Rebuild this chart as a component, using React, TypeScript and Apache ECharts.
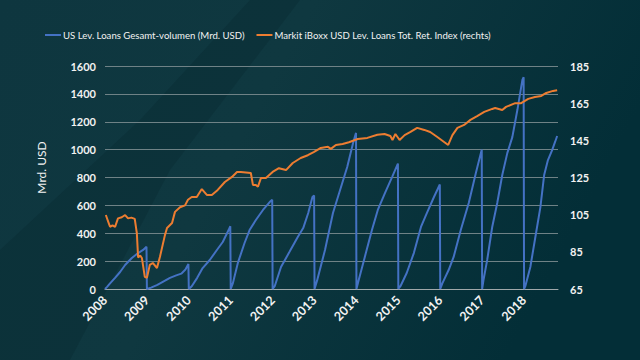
import React, { useEffect, useRef } from "react";
import * as echarts from "echarts";

// US leveraged loan volume, cumulative per year (Mrd. USD): [year, value]
const volumeData: [number, number][] = [
  [2008.0, 0], [2008.05, 15], [2008.12, 40], [2008.24, 80], [2008.36, 122], [2008.48, 172], [2008.64, 222], [2008.79, 258], [2008.91, 280], [2008.99, 303],
  [2009.0, 0], [2009.1, 10], [2009.25, 30], [2009.4, 55], [2009.55, 80], [2009.7, 98], [2009.82, 110], [2009.92, 140], [2009.99, 180],
  [2010.0, 0], [2010.07, 20], [2010.2, 80], [2010.33, 150], [2010.5, 208], [2010.67, 280], [2010.81, 337], [2010.95, 423], [2010.99, 450],
  [2011.0, 0], [2011.05, 40], [2011.17, 187], [2011.33, 330], [2011.45, 423], [2011.6, 495], [2011.77, 567], [2011.93, 624], [2011.99, 640],
  [2012.0, 0], [2012.05, 20], [2012.2, 158], [2012.4, 265], [2012.6, 373], [2012.73, 437], [2012.85, 545], [2012.95, 660], [2012.99, 670],
  [2013.0, 0], [2013.06, 60], [2013.25, 280], [2013.44, 545], [2013.61, 710], [2013.78, 875], [2013.92, 1047], [2013.99, 1120],
  [2014.0, 0], [2014.05, 60], [2014.2, 230], [2014.37, 423], [2014.51, 567], [2014.68, 688], [2014.85, 803], [2014.99, 900],
  [2015.0, 0], [2015.05, 20], [2015.2, 115], [2015.37, 258], [2015.54, 445], [2015.68, 545], [2015.85, 660], [2015.99, 750],
  [2016.0, 0], [2016.05, 40], [2016.2, 136], [2016.32, 230], [2016.49, 423], [2016.68, 617], [2016.85, 832], [2016.99, 1000],
  [2017.0, 0], [2017.03, 60], [2017.12, 208], [2017.24, 445], [2017.36, 617], [2017.48, 818], [2017.6, 975], [2017.72, 1090], [2017.84, 1284], [2017.96, 1500], [2017.99, 1520],
  [2018.0, 0], [2018.03, 20], [2018.15, 158], [2018.27, 373], [2018.39, 588], [2018.48, 818], [2018.57, 925], [2018.67, 997], [2018.74, 1055], [2018.79, 1098],
];

// Markit iBoxx USD Lev. Loans Total Return Index: [year, value]
const indexData: [number, number][] = [
  [2008.02, 104.8], [2008.08, 101], [2008.12, 98.5], [2008.18, 99.2], [2008.24, 98.4], [2008.31, 103], [2008.4, 103.6], [2008.48, 104.8], [2008.55, 103], [2008.63, 103.4], [2008.71, 102.7],
  [2008.76, 95], [2008.79, 82], [2008.84, 83], [2008.88, 81.7], [2008.95, 71.5], [2009.0, 71], [2009.07, 78], [2009.14, 79], [2009.24, 76.3], [2009.31, 82.2],
  [2009.43, 94], [2009.48, 97.8], [2009.6, 100.5], [2009.67, 106.5], [2009.79, 109], [2009.91, 110], [2009.98, 113], [2010.07, 114.5], [2010.19, 114.5],
  [2010.31, 118.8], [2010.43, 115.6], [2010.55, 115.6], [2010.69, 118.3], [2010.86, 122.6], [2011.03, 125.3], [2011.15, 128], [2011.24, 128], [2011.48, 127.4],
  [2011.53, 121], [2011.6, 121], [2011.65, 120], [2011.72, 124.7], [2011.84, 124.7], [2012.0, 128], [2012.15, 130], [2012.32, 129], [2012.48, 132.8],
  [2012.67, 135.5], [2012.84, 137], [2012.98, 138.7], [2013.15, 140.9], [2013.32, 141.5], [2013.39, 140.4], [2013.51, 142.5], [2013.67, 143], [2013.82, 144],
  [2014.03, 145.7], [2014.26, 146.3], [2014.5, 148], [2014.67, 148.4], [2014.81, 147.3], [2014.86, 145.2], [2014.93, 148.4], [2015.03, 145.2], [2015.15, 147.8],
  [2015.29, 149.5], [2015.45, 151.7], [2015.62, 150.6], [2015.76, 149.5], [2015.93, 146.8], [2016.1, 144], [2016.19, 142.5], [2016.29, 147.8], [2016.41, 151.7],
  [2016.57, 153.3], [2016.72, 156], [2016.88, 158], [2017.05, 160.3], [2017.24, 161.9], [2017.31, 162.4], [2017.48, 161.3], [2017.57, 163], [2017.79, 165],
  [2017.93, 165], [2018.1, 167.3], [2018.26, 168.3], [2018.41, 168.9], [2018.53, 170.5], [2018.69, 171.6], [2018.79, 172],
];

const seriesNames = [
  "US Lev. Loans Gesamt-volumen (Mrd. USD)",
  "Markit iBoxx USD Lev. Loans Tot. Ret. Index (rechts)",
];
const yearMin = 2008;
const yearMax = 2018.81;

const FONT = "Lato, 'Open Sans', sans-serif";
const TEXT = "#f2f2f2";

export default function App() {
  const ref = useRef<HTMLDivElement>(null);
  useEffect(() => {
    if (!ref.current) return;
    const chart = echarts.init(ref.current, undefined, { renderer: "svg" });
    chart.setOption({
      animation: false,
      backgroundColor: {
        type: "linear", x: 0, y: 0, x2: 1, y2: 0.3,
        colorStops: [
          { offset: 0, color: "#0e363f" },
          { offset: 0.45, color: "#0f3840" },
          { offset: 1, color: "#032e37" },
        ],
      },
      graphic: [
        {
          type: "polygon", silent: true, z: -10,
          shape: { points: [[0, 250], [140, 120], [250, 0], [300, 0], [170, 170], [70, 360], [0, 360]] },
          style: { fill: "rgba(0,30,36,0.18)" },
        },
      ],
      legend: {
        top: 25, left: 40,
        itemWidth: 16, itemHeight: 2, itemGap: 12,
        icon: "rect",
        textStyle: { color: TEXT, fontFamily: FONT, fontSize: 9.6, padding: [0, 0, 0, -3] },
        data: seriesNames,
      },
      grid: { left: 105, right: 82, top: 66, bottom: 71 },
      xAxis: {
        type: "value", min: yearMin, max: yearMax, interval: 1,
        axisLine: { show: true, lineStyle: { color: "#a0a8aa", width: 1 } },
        axisTick: { show: false },
        splitLine: { show: false },
        axisLabel: {
          color: TEXT, fontFamily: FONT, fontSize: 12.5, fontWeight: "bold", rotate: 45, margin: 9,
          showMaxLabel: false,
          formatter: (v: number) => String(Math.round(v)),
        },
      },
      yAxis: [
        {
          type: "value", min: 0, max: 1600, interval: 200,
          name: "Mrd. USD", nameLocation: "middle", nameGap: 58, nameRotate: 90,
          nameTextStyle: { color: TEXT, fontFamily: FONT, fontSize: 12, padding: [0, 0, 0, 20] },
          axisLine: { show: false }, axisTick: { show: false },
          axisLabel: {
            color: TEXT, fontFamily: FONT, fontSize: 11, fontWeight: "bold", margin: 9,
            formatter: (v: number) => String(v),
          },
          splitLine: { lineStyle: { color: "#6f8286", width: 1 } },
        },
        {
          type: "value", min: 65, max: 185, interval: 20,
          axisLine: { show: false }, axisTick: { show: false },
          axisLabel: { color: TEXT, fontFamily: FONT, fontSize: 11, fontWeight: "bold", margin: 12 },
          splitLine: { show: false },
        },
      ],
      series: [
        {
          name: seriesNames[0], type: "line", yAxisIndex: 0, data: volumeData,
          showSymbol: false, symbol: "none",
          lineStyle: { color: "#4472c4", width: 2 }, itemStyle: { color: "#4472c4" },
        },
        {
          name: seriesNames[1], type: "line", yAxisIndex: 1, data: indexData,
          showSymbol: false, symbol: "none",
          lineStyle: { color: "#ed7d31", width: 2 }, itemStyle: { color: "#ed7d31" },
        },
      ],
    });
    return () => chart.dispose();
  }, []);
  return <div ref={ref} style={{ width: 640, height: 360, position: "fixed", left: 0, top: 0 }} />;
}
